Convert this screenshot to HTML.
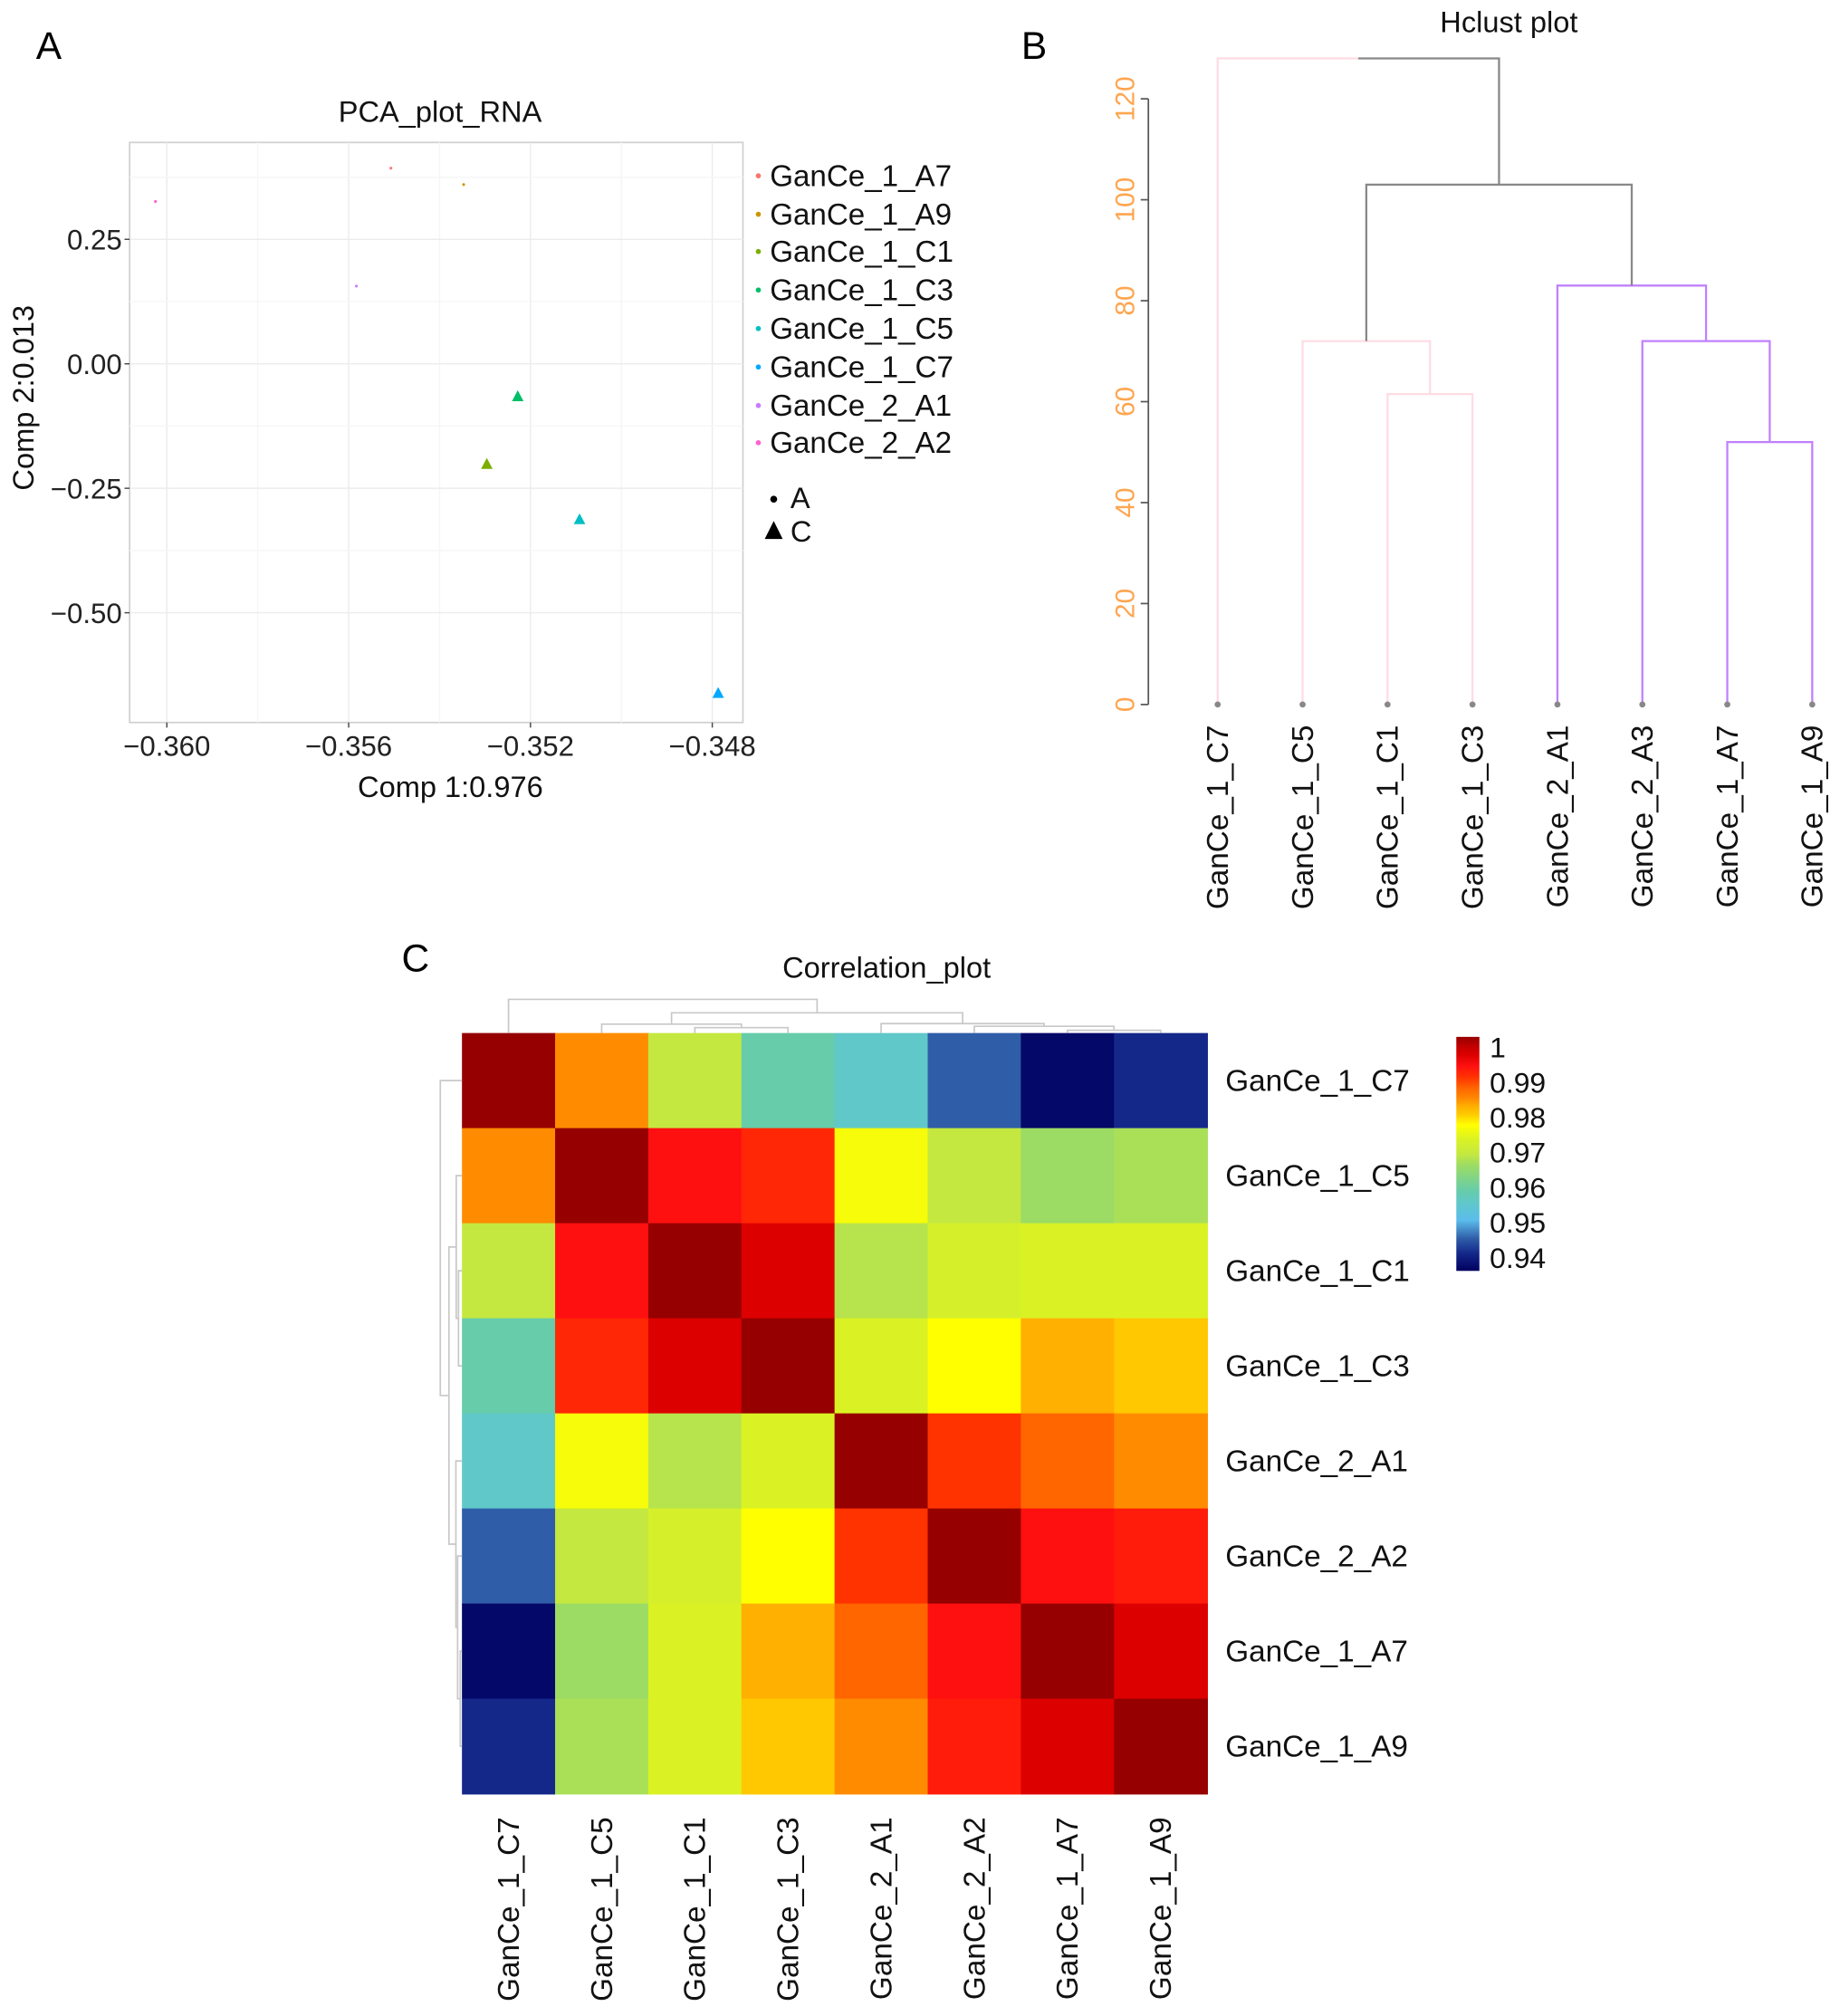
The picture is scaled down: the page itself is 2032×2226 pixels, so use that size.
<!DOCTYPE html>
<html><head><meta charset="utf-8"><style>
html,body{margin:0;padding:0;background:#fff;}
svg{display:block;font-family:"Liberation Sans",Arial,sans-serif;}
</style></head><body>
<svg id="fig" width="2032" height="2226" viewBox="0 0 1434 1571" xmlns="http://www.w3.org/2000/svg">
<rect x="0" y="0" width="1434" height="1571" fill="#fff"/>
<text x="28" y="46" font-size="30">A</text>
<text x="796" y="46" font-size="30">B</text>
<text x="313" y="757" font-size="30">C</text>
<g id="pca"></g>
<g id="hc"></g>
<g id="cor"></g>
</svg>
<script>
// ---------- PCA data ----------
const pcaNames = ["GanCe_1_A7","GanCe_1_A9","GanCe_1_C1","GanCe_1_C3","GanCe_1_C5","GanCe_1_C7","GanCe_2_A1","GanCe_2_A2"];
const pcaColors = ["#F8766D","#CD9600","#7CAE00","#00BE67","#00BFC4","#00A9FF","#C77CFF","#FF61CC"];
const pcaX = [-0.35507,-0.35347,-0.35296,-0.35228,-0.35092,-0.34787,-0.35583,-0.36025];
const pcaY = [0.393,0.360,-0.202,-0.066,-0.313,-0.662,0.156,0.326];
const pcaShape = ["A","A","C","C","C","C","A","A"];
const pcaXTicks = [-0.360,-0.356,-0.352,-0.348];
const pcaXTickLabels = ["\u22120.360","\u22120.356","\u22120.352","\u22120.348"];
const pcaYTicks = [0.25,0,-0.25,-0.5];
const pcaYTickLabels = ["0.25","0.00","\u22120.25","\u22120.50"];
// ---------- Hclust data ----------
const hcLeaves = ["GanCe_1_C7","GanCe_1_C5","GanCe_1_C1","GanCe_1_C3","GanCe_2_A1","GanCe_2_A3","GanCe_1_A7","GanCe_1_A9"];
const hcLeafColor = ["#FFDCE4","#FFDCE4","#FFDCE4","#FFDCE4","#C080FF","#C080FF","#C080FF","#C080FF"];
const hcMerges = [[-3,-4,61.5],[-7,-8,52],[-6,2,72],[-2,1,72],[-5,3,83],[4,5,103],[-1,6,128]];
const hcYTicks = [0,20,40,60,80,100,120];
// ---------- Correlation data ----------
const corLabels = ["GanCe_1_C7","GanCe_1_C5","GanCe_1_C1","GanCe_1_C3","GanCe_2_A1","GanCe_2_A2","GanCe_1_A7","GanCe_1_A9"];
const corRow0 = [1,0.983,0.968,0.958,0.955,0.945,0.937,0.941];
const corRow1 = [0.983,1,0.992,0.990,0.975,0.968,0.965,0.966];
const corRow2 = [0.968,0.992,1,0.995,0.967,0.971,0.972,0.972];
const corRow3 = [0.958,0.990,0.995,1,0.972,0.976,0.981,0.979];
const corRow4 = [0.955,0.975,0.967,0.972,1,0.989,0.986,0.983];
const corRow5 = [0.945,0.968,0.971,0.976,0.989,1,0.992,0.991];
const corRow6 = [0.937,0.965,0.972,0.981,0.986,0.992,1,0.995];
const corRow7 = [0.941,0.966,0.972,0.979,0.983,0.991,0.995,1];
const corRows = [corRow0,corRow1,corRow2,corRow3,corRow4,corRow5,corRow6,corRow7];
const cbTicks = [1,0.99,0.98,0.97,0.96,0.95,0.94];
const cbTickLabels = ["1","0.99","0.98","0.97","0.96","0.95","0.94"];
const corMerges = [[-3,-4,2],[-7,-8,1],[-6,2,2.5],[-2,1,3.3],[-5,3,3.5],[4,5,7.5],[-1,6,12.5]];

const NS="http://www.w3.org/2000/svg";
function mk(parent,tag,attrs,txt){const e=document.createElementNS(NS,tag);for(const k in attrs)e.setAttribute(k,attrs[k]);if(txt!==undefined)e.textContent=txt;parent.appendChild(e);return e;}

// ================= PCA =================
(function(){
const g=document.getElementById('pca');
const L=101,R=579,T=111,B=563;
const sx=v=>130+(v+0.360)/0.004*141.7;
const sy=v=>283.5-v/0.25*97;
let e=mk(g,'rect',{x:L,y:T,width:R-L,height:B-T,fill:'#fff',stroke:'#cfcfcf','stroke-width':1.2});


for(let i=0;i<pcaXTicks.length;i++){
 const x=sx(pcaXTicks[i]);
 e=mk(g,'line',{x1:x,y1:T,x2:x,y2:B,stroke:'#ececec','stroke-width':1});
 
 
 if(i<pcaXTicks.length-1){const xm=sx(pcaXTicks[i]+0.002);
 e=mk(g,'line',{x1:xm,y1:T,x2:xm,y2:B,stroke:'#f6f6f6','stroke-width':1});
 
 }
 e=mk(g,'line',{x1:x,y1:B,x2:x,y2:B+4,stroke:'#444','stroke-width':1});
 
 
 e=mk(g,'text',{x:x,y:B+26,'font-size':22,'text-anchor':'middle',fill:'#222'},pcaXTickLabels[i]);
 
 
}
for(let i=0;i<pcaYTicks.length;i++){
 const y=sy(pcaYTicks[i]);
 e=mk(g,'line',{x1:L,y1:y,x2:R,y2:y,stroke:'#ececec','stroke-width':1});
 
 
 const ym=sy(pcaYTicks[i]+0.125);
 e=mk(g,'line',{x1:L,y1:ym,x2:R,y2:ym,stroke:'#f6f6f6','stroke-width':1});
 
 
 e=mk(g,'line',{x1:L-4,y1:y,x2:L,y2:y,stroke:'#444','stroke-width':1});
 
 
 e=mk(g,'text',{x:L-6,y:y+8,'font-size':22,'text-anchor':'end',fill:'#222'},pcaYTickLabels[i]);
 
 
}
e=mk(g,'text',{x:343,y:95,'font-size':23,'text-anchor':'middle',fill:'#111'},'PCA_plot_RNA');


e=mk(g,'text',{x:351,y:621,'font-size':23,'text-anchor':'middle',fill:'#111'},'Comp 1:0.976');


e=mk(g,'text',{x:0,y:0,'font-size':23,'text-anchor':'middle',fill:'#111',transform:'translate(26,310) rotate(-90)'},'Comp 2:0.013');


for(let i=0;i<pcaX.length;i++){
 const x=sx(pcaX[i]),y=sy(pcaY[i]);
 if(pcaShape[i]==='C'){
  e=mk(g,'polygon',{points:`${x},${y-5} ${x-4.5},${y+3.5} ${x+4.5},${y+3.5}`,fill:pcaColors[i]});
  
  
 } else {
  e=mk(g,'circle',{cx:x,cy:y,r:1.1,fill:pcaColors[i]});
  
  
 }
}
const ly=[137,167,196,226,256,286,316,345];
for(let i=0;i<pcaNames.length;i++){
 e=mk(g,'circle',{cx:591,cy:ly[i],r:2,fill:pcaColors[i]});
 
 
 e=mk(g,'text',{x:600,y:ly[i]+8,'font-size':23.4,fill:'#111'},pcaNames[i]);
 
 
}
e=mk(g,'circle',{cx:603,cy:389,r:2.7,fill:'#000'});


e=mk(g,'text',{x:616,y:396,'font-size':23,fill:'#111'},'A');


e=mk(g,'polygon',{points:'603,406 596,420 610,420',fill:'#000'});


e=mk(g,'text',{x:616,y:422,'font-size':23,fill:'#111'},'C');


})();

// ================= Hclust =================
(function(){
const g=document.getElementById('hc');
const X0=949,DX=66.2;
const sy=v=>549-v*(549-77)/120;
let e=mk(g,'text',{x:1176,y:25,'font-size':23,'text-anchor':'middle',fill:'#111'},'Hclust plot');


e=mk(g,'line',{x1:895,y1:sy(0),x2:895,y2:sy(120),stroke:'#555','stroke-width':1.2});


for(const t of hcYTicks){
 const y=sy(t);
 e=mk(g,'line',{x1:889,y1:y,x2:895,y2:y,stroke:'#555','stroke-width':1.2});
 
 
 e=mk(g,'text',{x:0,y:0,'font-size':21,'text-anchor':'middle',fill:'#FFA54F',transform:`translate(884,${y}) rotate(-90)`},String(t));
 
 
}
const nx=[],nh=[],ncol=[];
function pos(id){if(id<0)return{x:X0+DX*(-id-1),h:0,c:hcLeafColor[-id-1],leaf:true};return{x:nx[id-1],h:nh[id-1],c:ncol[id-1],leaf:false};}
hcMerges.forEach((m,k)=>{
 const a=pos(m[0]),b=pos(m[1]);
 const mx=(a.x+b.x)/2;
 nx.push(mx);nh.push(m[2]);
 ncol.push(a.c===b.c && !(m[0]===-1)? a.c : '#888');
 const yp=sy(m[2]);
 [a,b].forEach(c=>{
  const colr=c.leaf?c.c:(ncol[k]===c.c?c.c:'#888');
  e=mk(g,'path',{d:`M${mx},${yp} H${c.x} V${sy(c.h)}`,fill:'none',stroke:colr,'stroke-width':1.6});
  
  
 });
});
for(let i=0;i<hcLeaves.length;i++){
 const x=X0+DX*i;
 e=mk(g,'circle',{cx:x,cy:sy(0),r:2.4,fill:'#888'});
 
 
 e=mk(g,'text',{x:0,y:0,'font-size':23.5,'text-anchor':'end',fill:'#111',transform:`translate(${x+8},565) rotate(-90)`},hcLeaves[i]);
 
 
}
})();

// ================= Correlation heatmap =================
const stopV=[0.936,0.941,0.945,0.950,0.955,0.958,0.965,0.968,0.972,0.976,0.979,0.981,0.983,0.986,0.989,0.992,0.995,0.997,1.0];
const stopC=["#00005F","#14288A","#2F5DA8","#5BBDEB","#60C8C8","#66CCAA","#9CDC64","#C4E840","#DAF224","#FFFF00","#FFC800","#FFB000","#FF8C00","#FF6600","#FF3300","#FF1010","#DD0000","#C80000","#960000"];
function hex2(c){return[1,3,5].map(i=>parseInt(c.substr(i,2),16));}
function cmap(v){
 if(v<=stopV[0])return stopC[0];
 for(let i=1;i<stopV.length;i++){if(v<=stopV[i]){const t=(v-stopV[i-1])/(stopV[i]-stopV[i-1]);const a=hex2(stopC[i-1]),b=hex2(stopC[i]);return 'rgb('+a.map((x,k)=>Math.round(x+(b[k]-x)*t)).join(',')+')';}}
 return stopC[stopC.length-1];
}
(function(){
const g=document.getElementById('cor');
const L=360,T=805,CW=72.6,CH=74.1;
let e=mk(g,'text',{x:691,y:762,'font-size':23,'text-anchor':'middle',fill:'#111'},'Correlation_plot');


for(let r=0;r<8;r++)for(let c=0;c<8;c++){
 e=mk(g,'rect',{x:L+c*CW,y:T+r*CH,width:CW+0.6,height:CH+0.6,fill:cmap(corRows[r][c])});
 
 
}
for(let i=0;i<8;i++){
 e=mk(g,'text',{x:955,y:T+CH*(i+0.5)+8,'font-size':23.5,fill:'#111'},corLabels[i]);
 
 
 e=mk(g,'text',{x:0,y:0,'font-size':23.5,'text-anchor':'end',fill:'#111',transform:`translate(${L+CW*(i+0.5)+8},1416) rotate(-90)`},corLabels[i]);
 
 
}
const K=2.1,KL=1.35;
const px=[],pd=[];
function P(id){if(id<0)return{p:-id-1+0.5,d:0};return{p:px[id-1],d:pd[id-1]};}
corMerges.forEach(m=>{
 const a=P(m[0]),b=P(m[1]);const mp=(a.p+b.p)/2;px.push(mp);pd.push(m[2]);
 const dTop=T-m[2]*K;
 e=mk(g,'path',{d:`M${L+a.p*CW},${T-a.d*K} V${dTop} H${L+b.p*CW} V${T-b.d*K}`,fill:'none',stroke:'#c8c8c8','stroke-width':1.2});
 
 
 const lx=L-m[2]*KL;
 e=mk(g,'path',{d:`M${L-a.d*KL},${T+a.p*CH} H${lx} V${T+b.p*CH} H${L-b.d*KL}`,fill:'none',stroke:'#c8c8c8','stroke-width':1.2});
 
 
});
const cbY=v=>816+(1-v)*2733;
const defs=mk(g,'defs',{});
const lg=mk(defs,'linearGradient',{id:'cbg',x1:0,y1:1,x2:0,y2:0});
const y0=cbY(0.9362),y1=cbY(1.0);
for(let i=0;i<stopV.length;i++){
 mk(lg,'stop',{offset:((cbY(Math.max(stopV[i],0.9362))-y0)/(y1-y0)),'stop-color':stopC[i]});
}
e=mk(g,'rect',{x:1135,y:808,width:18,height:y0-808,fill:'url(#cbg)'});


for(let i=0;i<cbTicks.length;i++){
 e=mk(g,'text',{x:1161,y:cbY(cbTicks[i])+8,'font-size':22.5,fill:'#111'},cbTickLabels[i]);
 
 
}
})();
</script>
</body></html>
